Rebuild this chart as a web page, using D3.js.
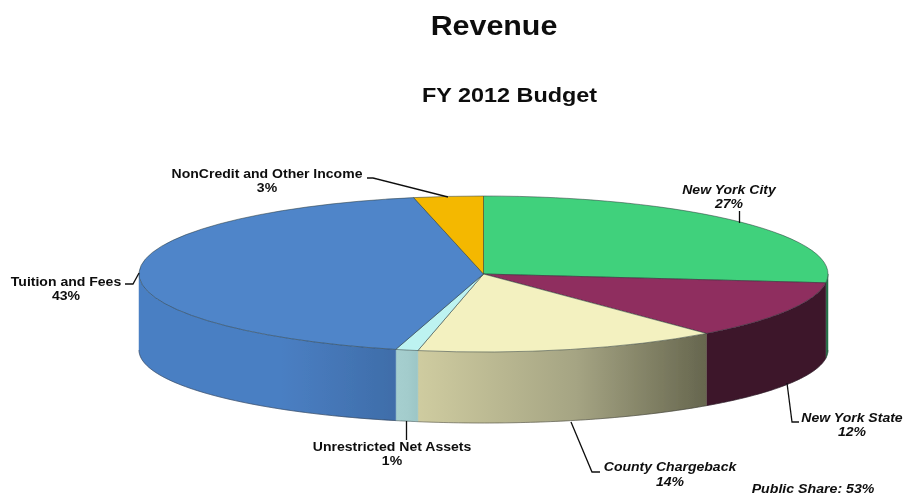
<!DOCTYPE html>
<html>
<head>
<meta charset="utf-8">
<style>
html,body{margin:0;padding:0;background:#fff;}
svg{display:block;}
text{font-family:"Liberation Sans",Arial,sans-serif;font-weight:bold;fill:#0c0c0c;text-anchor:middle;}
</style>
<script src="https://cdn.jsdelivr.net/npm/d3@7/dist/d3.min.js"></script>
</head>
<body>
<svg id="chart" width="906" height="496"></svg>
<script>
// --- data ---
const categories = ["New York City","New York State","County Chargeback","Unrestricted Net Assets","Tuition and Fees","NonCredit and Other Income"];
const percentLabels = ["27%","12%","14%","1%","43%","3%"];
const sliceShares = [26.8,12.0,14.25,1.05,42.65,3.25];
const italicFlags = [true,true,true,false,false,false];
const topColors = ["#41d17c","#8f2d5e","#f3f1c0","#bdf3f1","#4f85c9","#f4b800"];
const sideLeftColors = ["#2f8f58","#3c132b","#cfcca0","#a6cfcf","#4a7fc3","#b08600"];
const sideMidColors = ["#276f48","#3c132b","#a5a483","#a3cccc","#4a7fc3","#a88000"];
const sideRightColors = ["#1f6f44","#3c132b","#66664e","#9cc6c6","#3f6da9","#a07800"];

// --- layout ---
const W=906,H=496,cx=483.5,cy=274,rx=344.5,ry=78,baseOffset=76,baseRy=73;
const labelLayout = [
  {x:729,y1:194,y2:208,leader:[[739.5,211],[739.5,223]]},
  {x:852,y1:422,y2:436,leader:[[787,383],[792,422],[799,422]]},
  {x:670,y1:471,y2:486,leader:[[571,422],[592,472],[600,472]]},
  {x:392,y1:450.5,y2:464.5,leader:[[406.5,421],[406.5,440]]},
  {x:66,y1:286,y2:300,leader:[[125,284],[133,284],[139,273]]},
  {x:267,y1:178,y2:192,leader:[[367,178],[373,178],[448,197]]}
];

const svg=d3.select("#chart");
const defs=svg.append("defs");
const f=defs.append("filter").attr("id","soft").attr("x","-5%").attr("y","-5%").attr("width","110%").attr("height","110%");
f.append("feGaussianBlur").attr("stdDeviation",0.45);
const root=svg.append("g").attr("filter","url(#soft)");

const pie=d3.pie().value(d=>d).sort(null).startAngle(0).endAngle(2*Math.PI);
const arcs=pie(sliceShares);

const px=d3.scaleLinear().domain([-1,1]).range([cx-rx,cx+rx]);
const py=d3.scaleLinear().domain([-1,1]).range([cy-ry,cy+ry]);
const pyBase=d3.scaleLinear().domain([-1,1]).range([cy+baseOffset-baseRy,cy+baseOffset+baseRy]);
const ex=a=>px(Math.sin(a)), ey=a=>py(-Math.cos(a)), eyBase=a=>pyBase(-Math.cos(a));

// sides: only the front half (angles pi/2..3pi/2) is visible
const lineGen=d3.line().x(d=>d[0]).y(d=>d[1]);
arcs.forEach((a,i)=>{
  const s=Math.max(a.startAngle,Math.PI/2), e=Math.min(a.endAngle,3*Math.PI/2);
  if(e<=s) return;
  const n=60, angles=d3.range(n+1).map(k=>s+(e-s)*k/n);
  const top=angles.map(t=>[ex(t),ey(t)]);
  const bottom=angles.slice().reverse().map(t=>[ex(t),eyBase(t)]);
  const x0=d3.min(top,d=>d[0]), x1=d3.max(top,d=>d[0]);
  const g=defs.append("linearGradient").attr("id","side"+i).attr("gradientUnits","userSpaceOnUse")
    .attr("x1",x0).attr("x2",x1).attr("y1",0).attr("y2",0);
  g.append("stop").attr("offset",0).attr("stop-color",sideLeftColors[i]);
  g.append("stop").attr("offset",0.55).attr("stop-color",sideMidColors[i]);
  g.append("stop").attr("offset",1).attr("stop-color",sideRightColors[i]);
  root.append("path").attr("d",lineGen(top.concat(bottom))+"Z")
    .attr("fill",`url(#side${i})`).attr("stroke",`url(#side${i})`).attr("stroke-width",0.5);
  root.append("path").attr("d",lineGen(bottom)).attr("fill","none").attr("stroke","#222").attr("stroke-width",0.6).attr("stroke-opacity",0.7);
});

// top face
const arcGen=d3.arc().innerRadius(0).outerRadius(rx);
const topG=root.append("g").attr("transform",`translate(${cx},${cy}) scale(1,${ry/rx})`);
topG.selectAll("path").data(arcs).join("path")
  .attr("d",arcGen)
  .attr("fill",(d,i)=>topColors[i])
  .attr("stroke","#2a3a3a").attr("stroke-width",0.7)
  .attr("vector-effect","non-scaling-stroke").attr("stroke-opacity",0.75);

// leaders
labelLayout.forEach(l=>{
  root.append("path").attr("d",lineGen(l.leader)).attr("fill","none").attr("stroke","#111").attr("stroke-width",1.3);
});

// text stretched horizontally, as in the reference
function label(x,y,size,stretch,style,str){
  return root.append("text").attr("transform",`translate(${x},${y}) scale(${stretch},1)`)
    .attr("font-size",size).attr("font-style",style).text(str);
}
categories.forEach((c,i)=>{
  const l=labelLayout[i], st=italicFlags[i]?"italic":"normal";
  label(l.x,l.y1,13,1.08,st,c);
  label(l.x,l.y2,13,1.08,st,percentLabels[i]);
});

// titles
label(494,35,28,1.086,"normal","Revenue");
label(509.5,102,21,1.115,"normal","FY 2012 Budget");
label(813,493,13,1.09,"italic","Public Share: 53%");
</script>
</body>
</html>
